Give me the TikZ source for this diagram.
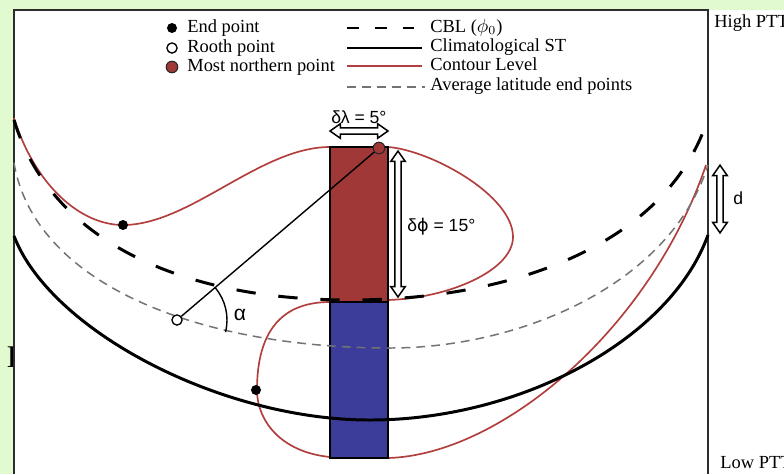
\documentclass[tikz,border=0pt]{standalone}
\usepackage{fontspec}
\setmainfont{Liberation Serif}
\setsansfont{Liberation Sans}
\newfontfamily\phifont{DejaVu Sans}
\usetikzlibrary{arrows.meta,positioning,calc,shapes.arrows}
\definecolor{bgGreen}{RGB}{226,250,208}
\definecolor{frameGray}{RGB}{45,45,45}
\definecolor{contRed}{RGB}{178,62,62}
\definecolor{barRed}{RGB}{160,56,56}
\definecolor{barBlue}{RGB}{60,60,155}
\definecolor{avgGray}{RGB}{115,115,115}

\begin{document}
\begin{tikzpicture}[x=0.02cm,y=-0.02cm,
  frame/.style={draw=frameGray,line width=1.1pt},
  stline/.style={black,line width=1.7pt},
  cbl/.style={black,line width=1.7pt,dash pattern=on 11pt off 13pt},
  avgline/.style={avgGray,line width=0.85pt,dash pattern=on 5pt off 3.5pt},
  contour/.style={contRed,line width=0.95pt},
  barbox/.style={draw=black,line width=0.9pt},
  endpt/.style={circle,fill=black,inner sep=0pt,minimum size=5.7pt},
  rootpt/.style={circle,draw=black,fill=white,line width=0.75pt,inner sep=0pt,minimum size=5.8pt},
  northpt/.style={circle,draw=black!85,fill=barRed,line width=0.6pt,inner sep=0pt,minimum size=6.6pt},
  leg/.style={font=\fontsize{10.5}{12}\selectfont,anchor=base west,inner sep=0pt},
  dim/.style={double arrow,draw=black,fill=white,line width=0.85pt,inner sep=1.4pt,
    double arrow head extend=2.3pt,double arrow tip angle=70},
  lab/.style={font=\sffamily\fontsize{10}{12}\selectfont,inner sep=0pt}]
\useasboundingbox (0,0) rectangle (784,474);
% background and frame
\fill[bgGreen] (0,0) rectangle (784,474);
\node[font=\fontsize{18}{20}\selectfont,inner sep=0pt] (cutI) at (12,357) {I};
\fill[white] (13,10) rectangle (784,474);
\draw[frame] (14,474) -- (14,10) -- (708,10) -- (708,474);

% legend
\node[endpt] (legEnd) at (172,28) {};
\node[rootpt] (legRooth) at (172,48) {};
\node[northpt] (legNorth) at (172,67) {};
\node[leg] (legEndT) at (187,32) {End point};
\node[leg] (legRoothT) at (187,52) {Rooth point};
\node[leg] (legNorthT) at (187,71) {Most northern point};
\node[leg] (cblT) at (430,32) {CBL (\(\phi_0\))};
\node[leg] (stT) at (430,51) {Climatological ST};
\node[leg] (contT) at (430,70) {Contour Level};
\node[leg] (avgT) at (430,90) {Average latitude end points};
\draw[cbl,dash pattern=on 6.8pt off 9pt] (347,28) -- (417,28);
\draw[stline,line width=1.2pt] (347,48) -- (422,48);
\draw[contour] (347,66) -- (422,66);
\draw[avgline] (347,87) -- (425,87);

% contour level
\draw[contour] (14,118) .. controls (35,185) and (80,225) .. (123,225)
  .. controls (190,225) and (260,147) .. (330,147) -- (388,147)
  .. controls (430,150) and (513,195) .. (513,237)
  .. controls (513,270) and (450,298) .. (388,300) -- (330,302)
  .. controls (275,302) and (257,340) .. (257,390)
  .. controls (257,420) and (280,452) .. (330,457) -- (388,458)
  .. controls (500,455) and (650,330) .. (706,165);

% bar
\draw[barbox,fill=barRed] (330,147) rectangle (388,302);
\draw[barbox,fill=barBlue] (330,302) rectangle (388,458);

% other curves
\draw[avgline] (14,163) .. controls (35,285) and (200,348) .. (390,348)
  .. controls (520,348) and (670,285) .. (708,165);
\draw[stline] (14,236) .. controls (50,330) and (220,420) .. (370,420)
  .. controls (520,420) and (670,340) .. (708,235);
\draw[cbl] (14,120) .. controls (50,240) and (180,300) .. (350,300)
  .. controls (520,300) and (670,240) .. (708,118);

% points and angle
\node[rootpt] (rooth) at (177,320) {};
\node[northpt] (north) at (379,148) {};
\node[endpt] (endA) at (123,225) {};
\node[endpt] (endB) at (256,390) {};
\draw[line width=0.8pt] (rooth) -- (north);
\draw[line width=0.8pt] ($(rooth)+(-40:50)$) arc[start angle=-40,end angle=14,radius=50];
\node[lab,font=\sffamily\fontsize{12}{14}\selectfont] (alpha) at (240,315) {α};

% dimension arrows
\node[dim,minimum height=33pt] (dlam) at (359,131) {};
\node[lab,above=1.5pt of dlam] (dlamT) {δλ = 5°};
\node[dim,rotate=90,minimum height=83pt] (dphi) at (398,224) {};
\node[lab,anchor=west] (dphiT) at (407,227) {δ{\phifont ϕ} = 15°};
\node[dim,rotate=90,minimum height=38.5pt] (dd) at (720,199) {};
\node[lab,anchor=west] (ddT) at (733,198) {d};

% side labels
\node[leg] (high) at (714,27) {High PTT};
\node[leg] (low) at (720,468) {Low PTT};
\end{tikzpicture}
\end{document}
